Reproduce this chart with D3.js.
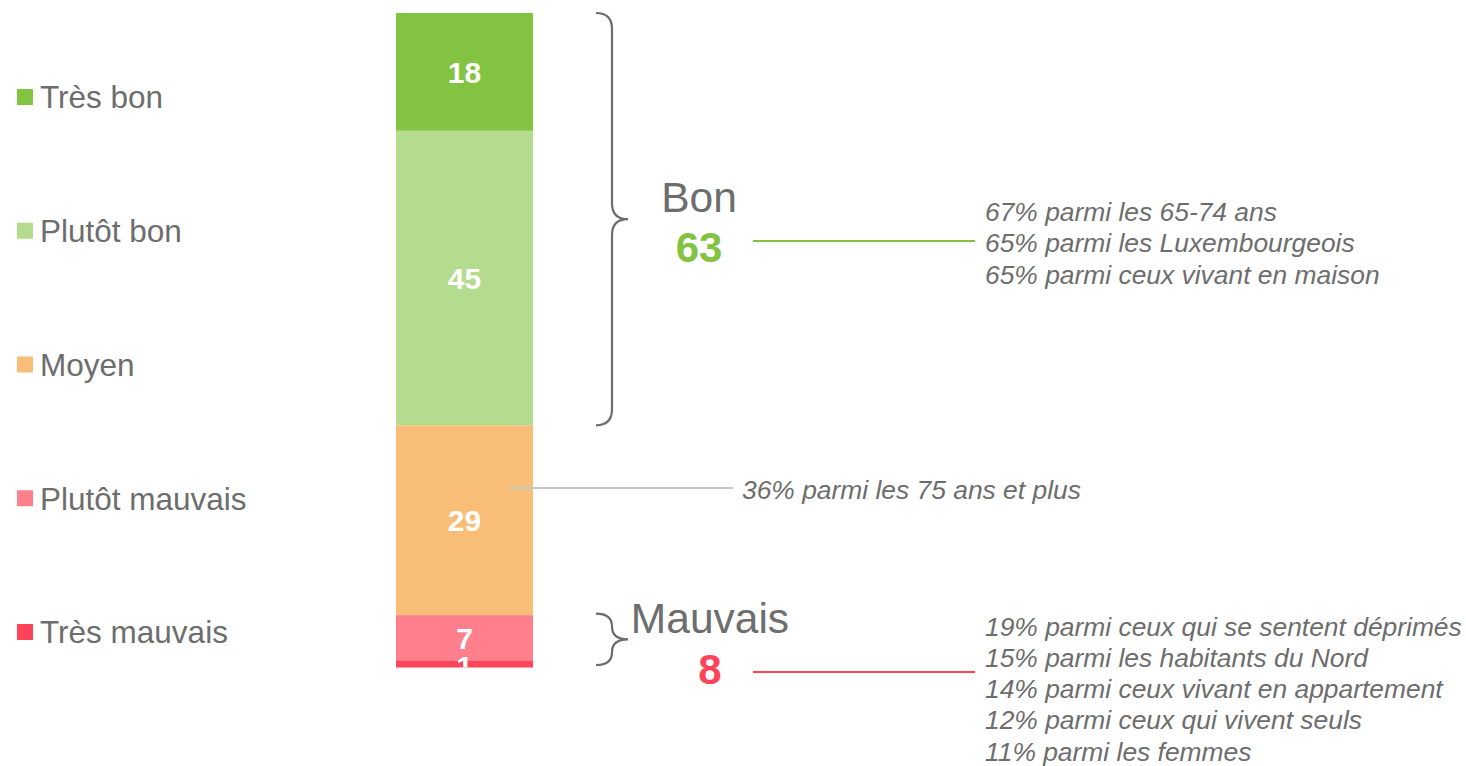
<!DOCTYPE html>
<html><head><meta charset="utf-8">
<script src="https://cdn.jsdelivr.net/npm/d3@7"></script>
<style>
html,body{margin:0;padding:0;background:#fff;}
svg{display:block;}
svg text{font-family:Arial,"Liberation Sans",Helvetica,sans-serif;}
</style></head>
<body>
<svg id="chart" width="1466" height="766"></svg>
<script>
const categories = ["Très bon", "Plutôt bon", "Moyen", "Plutôt mauvais", "Très mauvais"];
const values = [18, 45, 29, 7, 1];
const colors = ["#82C341", "#B5DB8F", "#F8BE78", "#FF7F8C", "#FF4459"];
const groupLabels = ["Bon", "Mauvais"];
const groupValues = [63, 8];
const groupColors = ["#82C341", "#FF4459"];
const groupRanges = [[0, 1], [3, 4]];
const bonNotes = ["67% parmi les 65-74 ans", "65% parmi les Luxembourgeois", "65% parmi ceux vivant en maison"];
const moyenNotes = ["36% parmi les 75 ans et plus"];
const mauvaisNotes = ["19% parmi ceux qui se sentent déprimés", "15% parmi les habitants du Nord", "14% parmi ceux vivant en appartement", "12% parmi ceux qui vivent seuls", "11% parmi les femmes"];

const svg = d3.select("#chart");
const grey = "#6d6d6d";

const y = d3.scaleLinear().domain([0, 100]).range([13, 667.5]);
const x = d3.scaleBand().domain(["all"]).range([396, 533]).padding(0);

let cum = 0;
const segs = values.map((v, i) => { const s = {cat: categories[i], v, c: colors[i], y0: cum, y1: cum + v}; cum += v; return s; });

svg.append("defs").append("clipPath").attr("id", "barclip")
  .append("rect").attr("x", x("all")).attr("y", y(0)).attr("width", x.bandwidth()).attr("height", y(100) - y(0));

svg.selectAll("rect.seg").data(segs).join("rect").attr("class", "seg")
  .attr("x", x("all")).attr("width", x.bandwidth())
  .attr("y", d => y(d.y0)).attr("height", d => y(d.y1) - y(d.y0))
  .attr("fill", d => d.c);

svg.append("g").attr("clip-path", "url(#barclip)")
  .selectAll("text").data(segs).join("text")
  .attr("x", x("all") + x.bandwidth() / 2)
  .attr("y", d => (y(d.y0) + y(d.y1)) / 2 + (d.v < 3 ? 2 : 0))
  .attr("dy", "0.36em")
  .attr("text-anchor", "middle").attr("fill", "#fff").attr("font-weight", "bold").attr("font-size", 30)
  .text(d => d.v);

// legend
const ly = d3.scalePoint().domain(categories).range([97, 632]);
const lg = svg.append("g").selectAll("g").data(categories).join("g")
  .attr("transform", d => `translate(0,${ly(d)})`);
lg.append("rect").attr("x", 17).attr("y", -8).attr("width", 16).attr("height", 16).attr("fill", (d, i) => colors[i]);
lg.append("text").attr("x", 40).attr("dy", "0.36em").attr("font-size", 31.5).attr("fill", grey).text(d => d);

// braces
function brace(x0, ya, yb, w) {
  const xm = x0 + w / 2, xt = x0 + w, ym = (ya + yb) / 2;
  const r = Math.min(16, (yb - ya) / 4);
  return `M${x0},${ya} Q${xm},${ya} ${xm},${ya + r} L${xm},${ym - r} Q${xm},${ym} ${xt},${ym}` +
         ` Q${xm},${ym} ${xm},${ym + r} L${xm},${yb - r} Q${xm},${yb} ${x0},${yb}`;
}
groupRanges.forEach((g, i) => {
  const ya = y(segs[g[0]].y0) + (i === 0 ? 0 : -1.5);
  const yb = y(segs[g[1]].y1) - (i === 0 ? 0 : 2.5);
  svg.append("path").attr("d", brace(596, ya, yb, 32))
    .attr("fill", "none").attr("stroke", grey).attr("stroke-width", 2.2);
});

// group labels
svg.append("text").attr("x", 699).attr("y", 212).attr("text-anchor", "middle").attr("font-size", 42.5).attr("fill", grey).text(groupLabels[0]);
svg.append("text").attr("x", 699).attr("y", 262).attr("text-anchor", "middle").attr("font-size", 42).attr("font-weight", "bold").attr("fill", groupColors[0]).text(groupValues[0]);
svg.append("text").attr("x", 710).attr("y", 633).attr("text-anchor", "middle").attr("font-size", 42.5).attr("fill", grey).text(groupLabels[1]);
svg.append("text").attr("x", 710).attr("y", 684).attr("text-anchor", "middle").attr("font-size", 42).attr("font-weight", "bold").attr("fill", groupColors[1]).text(groupValues[1]);

// connector lines
svg.append("line").attr("x1", 753).attr("x2", 975).attr("y1", 241).attr("y2", 241).attr("stroke", groupColors[0]).attr("stroke-width", 2);
svg.append("line").attr("x1", 753).attr("x2", 975).attr("y1", 672).attr("y2", 672).attr("stroke", groupColors[1]).attr("stroke-width", 2);
svg.append("line").attr("x1", 510).attr("x2", 733).attr("y1", 488).attr("y2", 488).attr("stroke", "#c8c8c8").attr("stroke-width", 2);

function notes(list, x0, yc0, step) {
  svg.append("g").selectAll("text").data(list).join("text")
    .attr("x", x0).attr("y", (d, i) => yc0 + i * step).attr("dy", "0.36em")
    .attr("font-size", 26.4).attr("font-style", "italic").attr("fill", grey).text(d => d);
}
notes(bonNotes, 985, 211, 31.5);
notes(moyenNotes, 742, 489, 0);
notes(mauvaisNotes, 985, 626, 31.3);
</script>
</body></html>
